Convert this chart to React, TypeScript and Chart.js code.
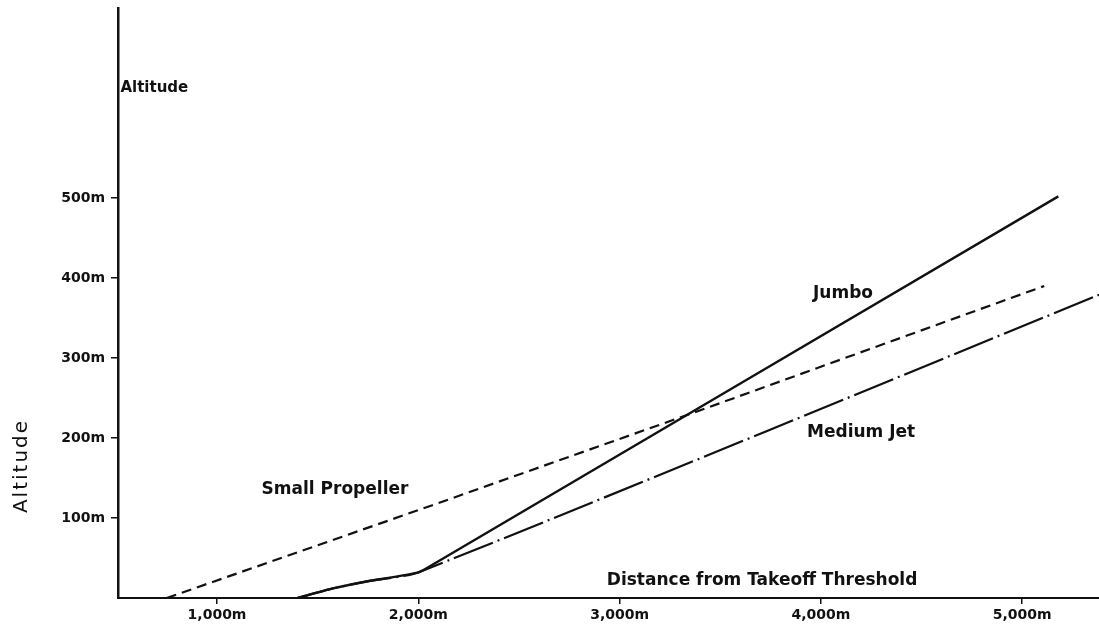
import React, { useEffect, useRef } from "react";
import { Chart, registerables } from "chart.js";
Chart.register(...registerables);

// Distance from takeoff threshold (m) and altitude (m)
const xTickValues = [1000, 2000, 3000, 4000, 5000];
const yTickValues = [100, 200, 300, 400, 500];

const smallPropellerX = [750, 2070, 3350, 5110];
const smallPropellerY = [0, 116, 230, 390];

const jumboX = [1400, 1575, 1750, 2000, 2100, 5180];
const jumboY = [0, 12, 21, 32, 46, 502];

const mediumJetX = [1400, 1575, 1750, 2000, 5450];
const mediumJetY = [0, 12, 21, 32, 386];

const labels = [
  { text: "Jumbo", x: 4110, y: 381, size: 17 },
  { text: "Medium Jet", x: 4200, y: 207, size: 17 },
  { text: "Small Propeller", x: 1586, y: 135, size: 17 },
  { text: "Distance from Takeoff Threshold", x: 3708, y: 22, size: 17 },
];

const FONT = "'DejaVu Sans', sans-serif";
const INK = "#111111";

const toPoints = (xs: number[], ys: number[]) => xs.map((x, i) => ({ x, y: ys[i] }));

const textPlugin = {
  id: "textLabels",
  afterDatasetsDraw(chart: any) {
    const { ctx, scales } = chart;
    const xs = scales.x;
    const ys = scales.y;
    ctx.save();
    ctx.fillStyle = INK;
    ctx.textBaseline = "middle";
    ctx.textAlign = "center";
    for (const l of labels) {
      ctx.font = `bold ${l.size}px ${FONT}`;
      ctx.fillText(l.text, xs.getPixelForValue(l.x), ys.getPixelForValue(l.y));
    }
    // small label near top of y axis
    ctx.font = `bold 15px ${FONT}`;
    ctx.textAlign = "left";
    ctx.fillText("Altitude", xs.getPixelForValue(520), ys.getPixelForValue(637));
    // rotated axis title
    ctx.translate(22, ys.getPixelForValue(165));
    ctx.rotate(-Math.PI / 2);
    ctx.textAlign = "center";
    ctx.font = `20px ${FONT}`;
    (ctx as any).letterSpacing = "2px";
    ctx.fillText("Altitude", 0, 0);
    ctx.restore();
  },
};

export default function App() {
  const ref = useRef<HTMLCanvasElement>(null);
  useEffect(() => {
    if (!ref.current) return;
    const chart = new Chart(ref.current, {
      type: "line",
      data: {
        datasets: [
          {
            label: "Small Propeller",
            data: toPoints(smallPropellerX, smallPropellerY),
            borderColor: INK,
            borderWidth: 2.2,
            borderDash: [10, 6],
            pointRadius: 0,
            tension: 0,
          },
          {
            label: "Jumbo",
            data: toPoints(jumboX, jumboY),
            borderColor: INK,
            borderWidth: 2.4,
            pointRadius: 0,
            tension: 0.2,
          },
          {
            label: "Medium Jet",
            data: toPoints(mediumJetX, mediumJetY),
            borderColor: INK,
            borderWidth: 2.2,
            borderDash: [42, 5, 2, 5],
            pointRadius: 0,
            tension: 0.2,
          },
        ],
      },
      options: {
        animation: false,
        responsive: false,
        layout: { padding: { top: 8, left: 0, right: 0, bottom: 0 } },
        plugins: { legend: { display: false }, tooltip: { enabled: false } },
        scales: {
          x: {
            type: "linear",
            min: 508,
            max: 5382,
            afterFit: (s: any) => {
              s.height = 36;
              s.paddingLeft = 0;
              s.paddingRight = 0;
            },
            afterBuildTicks: (s: any) => {
              s.ticks = xTickValues.map((v) => ({ value: v }));
            },
            grid: { display: true, drawOnChartArea: false, drawTicks: true, tickLength: 6, color: INK, lineWidth: 1.5 },
            border: { display: true, color: INK, width: 2 },
            ticks: {
              callback: (v: any) => Number(v).toLocaleString("en-US") + "m",
              font: { family: FONT, size: 14, weight: "bold" },
              color: INK,
              padding: 3,
              maxRotation: 0,
              autoSkip: false,
            },
          },
          y: {
            type: "linear",
            min: 0,
            max: 737.5,
            afterFit: (s: any) => {
              s.width = 118;
              s.paddingTop = 0;
              s.paddingBottom = 0;
            },
            afterBuildTicks: (s: any) => {
              s.ticks = yTickValues.map((v) => ({ value: v }));
            },
            grid: { display: true, drawOnChartArea: false, drawTicks: true, tickLength: 7, color: INK, lineWidth: 1.5 },
            border: { display: true, color: INK, width: 2.5 },
            ticks: {
              callback: (v: any) => v + "m",
              font: { family: FONT, size: 14, weight: "bold" },
              color: INK,
              padding: 6,
              autoSkip: false,
            },
          },
        },
      },
      plugins: [textPlugin],
    });
    return () => chart.destroy();
  }, []);
  return (
    <div style={{ position: "fixed", left: 0, top: 0, width: 1099, height: 634, background: "#fff" }}>
      <canvas ref={ref} width={1099} height={634} style={{ display: "block" }} />
    </div>
  );
}
